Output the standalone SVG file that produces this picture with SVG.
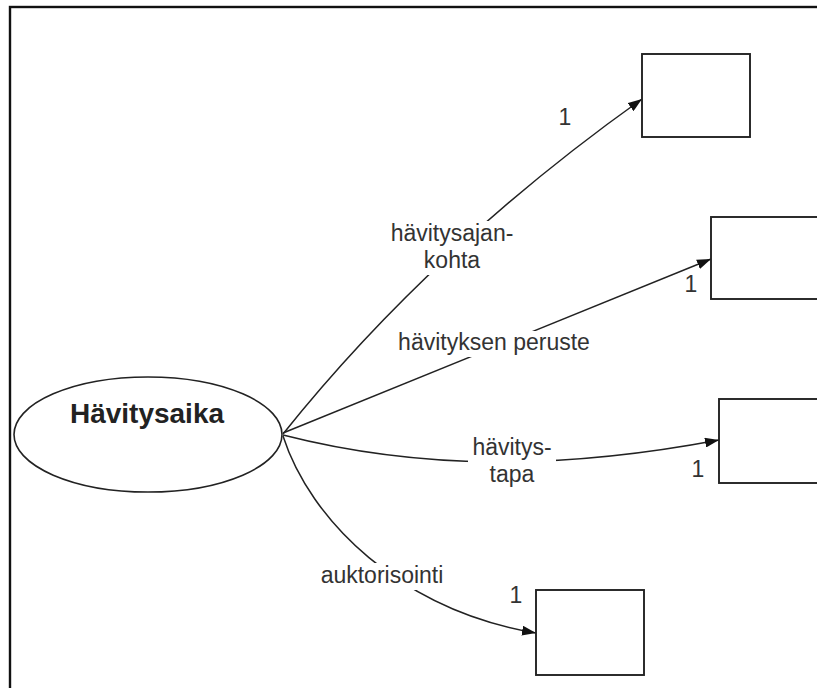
<svg xmlns="http://www.w3.org/2000/svg" width="817" height="688" viewBox="0 0 817 688">
<defs>
<style>
.frame{fill:none;stroke:#111;stroke-width:2.4}
.box{fill:#fff;stroke:#222;stroke-width:1.9}
.edge{fill:none;stroke:#222;stroke-width:1.5;marker-end:url(#arr)}
.lbl{font-family:"Liberation Sans",Arial,sans-serif;font-size:23px;fill:#333;text-anchor:middle}
.bg{fill:#fff;stroke:none}
.title{font-family:"Liberation Sans",Arial,sans-serif;font-size:28px;font-weight:bold;fill:#222;text-anchor:middle}
</style>
<marker id="arr" viewBox="0 0 14 10" refX="14" refY="5" markerWidth="14" markerHeight="10" markerUnits="userSpaceOnUse" orient="auto">
<path d="M0,0 L14,5 L0,10 z" fill="#111"/>
</marker>
</defs>
<rect width="817" height="688" fill="#fff"/>
<rect class="frame" x="10" y="7" width="820" height="700"/>
<g id="connectors">
<path class="edge" d="M283,434 Q430,250 642,99"/>
<path class="edge" d="M283,433 L711,259"/>
<path class="edge" d="M283,435 C420,470 560,470 719,440"/>
<path class="edge" d="M283,436 C310,520 400,610 536,633"/>
<rect class="bg" x="388" y="221" width="130" height="54"/>
<rect class="bg" x="395" y="331" width="199" height="26"/>
<rect class="bg" x="468" y="436" width="88" height="52"/>
<rect class="bg" x="318" y="563" width="128" height="27"/>
<text class="lbl" x="452" y="241">hävitysajan-</text>
<text class="lbl" x="452" y="268">kohta</text>
<text class="lbl" x="494" y="350">hävityksen peruste</text>
<text class="lbl" x="512" y="455">hävitys-</text>
<text class="lbl" x="512" y="482">tapa</text>
<text class="lbl" x="382" y="583">auktorisointi</text>
<text class="lbl" x="565" y="125">1</text>
<text class="lbl" x="691" y="292">1</text>
<text class="lbl" x="698" y="477">1</text>
<text class="lbl" x="516" y="603">1</text>
</g>
<g id="havitysaika">
<ellipse cx="148" cy="434.5" rx="134" ry="57.5" fill="#fff" stroke="#222" stroke-width="1.6"/>
<text class="title" x="147" y="423">Hävitysaika</text>
</g>
<g id="box1"><rect class="box" x="642" y="54" width="108" height="83"/></g>
<g id="box2"><rect class="box" x="711" y="217" width="130" height="82"/></g>
<g id="box3"><rect class="box" x="719" y="399" width="130" height="84"/></g>
<g id="box4"><rect class="box" x="536" y="590" width="108" height="85"/></g>
</svg>
